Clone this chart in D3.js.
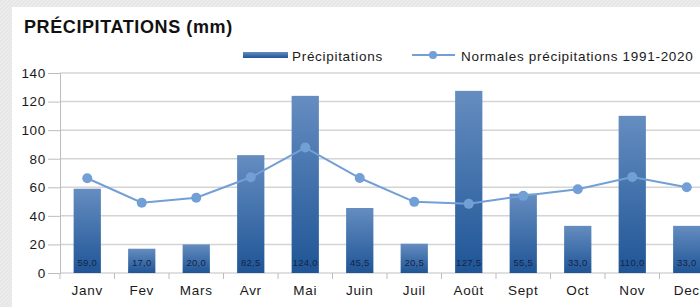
<!DOCTYPE html>
<html>
<head>
<meta charset="utf-8">
<script src="https://cdn.jsdelivr.net/npm/d3@7"></script>
<style>
  body { margin: 0; background: #e8e8e8; }
  svg { display: block; font-family: "Liberation Sans", Arial, sans-serif; }
</style>
</head>
<body>
<div id="chart"></div>
<script>
const months = ["Janv", "Fev", "Mars", "Avr", "Mai", "Juin", "Juil", "Août", "Sept", "Oct", "Nov", "Dec"];
const precipitations = [59.0, 17.0, 20.0, 82.5, 124.0, 45.5, 20.5, 127.5, 55.5, 33.0, 110.0, 33.0];
const normales = [66.3, 49.2, 52.7, 67.0, 87.8, 66.5, 49.8, 48.4, 54.0, 58.6, 67.2, 60.0];
const yTicks = [0, 20, 40, 60, 80, 100, 120, 140];

const W = 700, H = 307;
const plot = { left: 60, top: 73, bottom: 273, right: 714 };

const svg = d3.select("#chart").append("svg").attr("width", W).attr("height", H);

// subtle textured backdrop
const defs = svg.append("defs");
const pat = defs.append("pattern")
  .attr("id", "tex").attr("width", 4).attr("height", 4)
  .attr("patternUnits", "userSpaceOnUse");
pat.append("rect").attr("width", 4).attr("height", 4).attr("fill", "#e7e7e7");
pat.append("path").attr("d", "M0,4 L4,0").attr("stroke", "#efefef").attr("stroke-width", 1);

const grad = defs.append("linearGradient")
  .attr("id", "barGrad").attr("x1", 0).attr("y1", 0).attr("x2", 0).attr("y2", 1);
grad.append("stop").attr("offset", "0%").attr("stop-color", "#658dc0");
grad.append("stop").attr("offset", "100%").attr("stop-color", "#1f5596");

svg.append("rect").attr("width", W).attr("height", H).attr("fill", "url(#tex)");
svg.append("rect").attr("x", 12).attr("y", 7).attr("width", W - 12).attr("height", H - 7)
  .attr("fill", "#fff");

const x = d3.scaleBand().domain(months).range([plot.left, plot.right]);
const y = d3.scaleLinear().domain([0, 140]).range([plot.bottom, plot.top]);

// gridlines
svg.append("g")
  .selectAll("line")
  .data(yTicks)
  .join("line")
  .attr("x1", plot.left).attr("x2", W)
  .attr("y1", d => y(d)).attr("y2", d => y(d))
  .attr("stroke", "#d4d4d4").attr("stroke-width", 1.5);

// y axis
const yAxis = svg.append("g")
  .attr("transform", `translate(${plot.left},0)`)
  .call(d3.axisLeft(y).tickValues(yTicks).tickSize(12).tickPadding(2).tickFormat(d3.format("d")));
yAxis.select(".domain").attr("stroke", "#bdbdbd");
yAxis.selectAll(".tick line").attr("stroke", "#bdbdbd");
yAxis.selectAll("text")
  .attr("font-size", 13.5).attr("letter-spacing", 0.7).attr("fill", "#1a1a1a");

// x axis: ticks at band boundaries
const xAxis = svg.append("g");
xAxis.selectAll("line")
  .data(months)
  .join("line")
  .attr("x1", d => x(d)).attr("x2", d => x(d))
  .attr("y1", plot.bottom).attr("y2", plot.bottom + 6)
  .attr("stroke", "#bdbdbd");
xAxis.selectAll("text")
  .data(months)
  .join("text")
  .attr("x", d => x(d) + x.bandwidth() / 2)
  .attr("y", plot.bottom + 22)
  .attr("text-anchor", "middle")
  .attr("font-size", 13.5)
  .attr("letter-spacing", 0.7)
  .attr("fill", "#1a1a1a")
  .text(d => d);

// bars
const barW = x.bandwidth() * 0.5;
svg.append("g")
  .selectAll("rect")
  .data(precipitations)
  .join("rect")
  .attr("x", (d, i) => x(months[i]) + (x.bandwidth() - barW) / 2)
  .attr("width", barW)
  .attr("y", d => y(d))
  .attr("height", d => y(0) - y(d))
  .attr("fill", "url(#barGrad)");

// value labels
const fmt = d => d3.format(".1f")(d).replace(".", ",");
svg.append("g")
  .selectAll("text")
  .data(precipitations)
  .join("text")
  .attr("x", (d, i) => x(months[i]) + x.bandwidth() / 2)
  .attr("y", plot.bottom - 7)
  .attr("text-anchor", "middle")
  .attr("font-size", 9.5)
  .attr("letter-spacing", 0.3)
  .attr("fill", "#142447")
  .text(fmt);

// normales line
const line = d3.line()
  .x((d, i) => x(months[i]) + x.bandwidth() / 2)
  .y(d => y(d));
svg.append("path")
  .datum(normales)
  .attr("d", line)
  .attr("fill", "none")
  .attr("stroke", "#729fd6")
  .attr("stroke-width", 2);
svg.append("g")
  .selectAll("circle")
  .data(normales)
  .join("circle")
  .attr("cx", (d, i) => x(months[i]) + x.bandwidth() / 2)
  .attr("cy", d => y(d))
  .attr("r", 5)
  .attr("fill", "#729fd6");

// title
svg.append("text")
  .attr("x", 24).attr("y", 33)
  .attr("font-size", 18).attr("letter-spacing", 0.6)
  .attr("font-weight", "bold").attr("fill", "#111")
  .text("PRÉCIPITATIONS (mm)");

// legend
const legend = svg.append("g")
  .attr("font-size", 13.5).attr("letter-spacing", 0.7).attr("fill", "#1a1a1a");
legend.append("rect")
  .attr("x", 243).attr("y", 52).attr("width", 45).attr("height", 6)
  .attr("fill", "url(#barGrad)");
legend.append("text").attr("x", 292).attr("y", 61).text("Précipitations");
legend.append("line")
  .attr("x1", 412).attr("x2", 455).attr("y1", 55).attr("y2", 55)
  .attr("stroke", "#729fd6").attr("stroke-width", 2);
legend.append("circle").attr("cx", 433).attr("cy", 55).attr("r", 4).attr("fill", "#729fd6");
legend.append("text").attr("x", 461).attr("y", 61).text("Normales précipitations 1991-2020");
</script>
</body>
</html>
